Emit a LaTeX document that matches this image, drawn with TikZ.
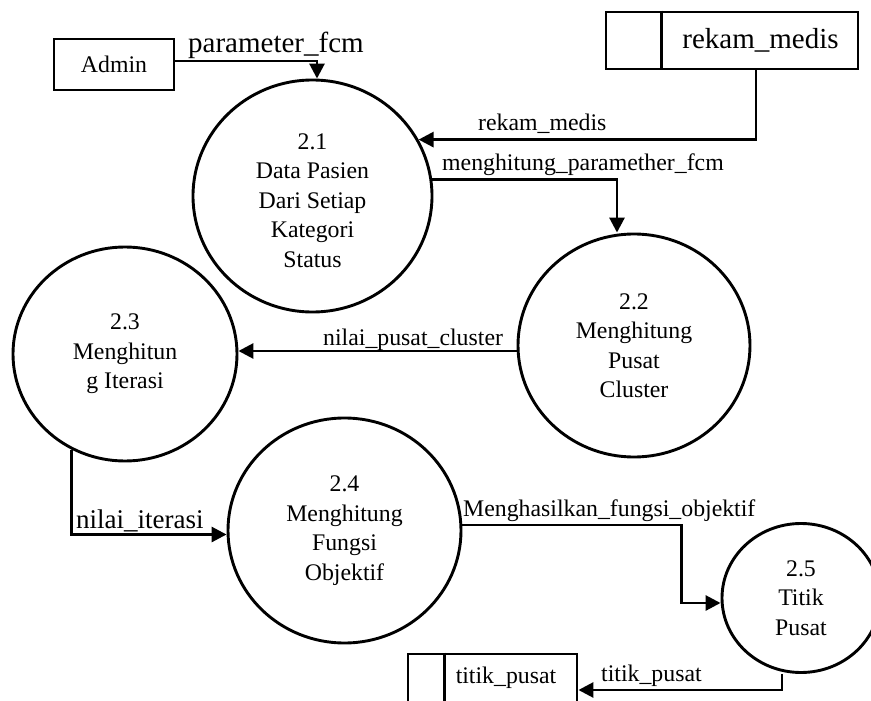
\documentclass[tikz,border=0pt]{standalone}
\usepackage{fontspec}
\setmainfont{Liberation Serif}
\usetikzlibrary{arrows.meta,shapes.geometric}
\begin{document}
\begin{tikzpicture}[x=1pt,y=-1pt,
  every node/.style={font=\fontsize{23.8}{29.5}\selectfont},
  ln/.style={line width=2.9pt},
  flow/.style={line width=2.9pt,-{Triangle[length=15pt,width=15pt]}},
  proc/.style={ellipse,draw,line width=2.9pt,inner sep=0pt,align=center},
  box/.style={rectangle,draw,line width=2.9pt,inner sep=0pt},
  lbl/.style={anchor=base west,inner sep=0pt},
  big/.style={font=\fontsize{29}{34}\selectfont}
]
\useasboundingbox (0,0) rectangle (871,701);
\clip (0,0) rectangle (871,701);

% external entity and data stores
\node[box,minimum width=120pt,minimum height=51pt] (admin) at (114,64.5) {Admin};
\node[box,minimum width=252pt,minimum height=57pt] (rm) at (732,40.5) {};
\draw[ln] ([xshift=57pt]rm.north west) -- ([xshift=57pt]rm.south west);
\node[big,inner sep=0pt] (rmt) at ([xshift=28.5pt]rm.center) {rekam\_medis};
\node[box,minimum width=169pt,minimum height=56pt] (ts) at (492.5,682) {};
\draw[ln] ([xshift=38pt]ts.north west) -- ([xshift=38pt]ts.south west);
\node[anchor=base,inner sep=0pt] (tst) at (506,683) {titik\_pusat};

% processes
\node[proc,minimum width=239pt,minimum height=232pt] (c21) at (312.5,196) {};
\node[align=center,inner sep=0pt] (c21t) at (312.5,200.5) {2.1\\Data Pasien\\Dari Setiap\\Kategori\\Status};
\node[proc,minimum width=232pt,minimum height=223pt] (c22) at (634,345.5) {2.2\\Menghitung\\Pusat\\Cluster};
\node[proc,minimum width=224pt,minimum height=214pt] (c23) at (125,354) {2.3\\Menghitun\\g Iterasi};
\node[proc,minimum width=233pt,minimum height=225pt] (c24) at (344.5,530.5) {2.4\\Menghitung\\Fungsi\\Objektif};
\node[proc,minimum width=158pt,minimum height=149pt] (c25) at (801,598) {2.5\\Titik\\Pusat};

% flows
\draw[flow] ([yshift=3.5pt]admin.east) -| ([xshift=4.5pt]c21.north);
\draw[flow] ([xshift=24pt]rm.south) |- (c21.28);
\draw[flow] (c21.8) -| ([xshift=-17pt]c22.north);
\draw[flow] ([yshift=-5.5pt]c22.west) -- ([yshift=-5.5pt]c22.west -| c23.east);
\draw[flow] (c23.241) |- ([yshift=-4pt]c24.west);
\draw[flow] ([yshift=5.5pt]c24.east) -| ([xshift=-39pt,yshift=-5pt]c25.west) -- ([yshift=-5pt]c25.west);
\draw[flow] ([xshift=-19pt]c25.south) |- ([yshift=-8pt]ts.east);

% flow labels
\node[lbl,big] (l1) at (188,53) {parameter\_fcm};
\node[lbl] (l2) at (478,130) {rekam\_medis};
\node[lbl] (l3) at (442,170) {menghitung\_paramether\_fcm};
\node[lbl] (l4) at (323,345) {nilai\_pusat\_cluster};
\node[lbl,font=\fontsize{27}{32}\selectfont] (l5) at (76,528) {nilai\_iterasi};
\node[lbl] (l6) at (463,516) {Menghasilkan\_fungsi\_objektif};
\node[lbl] (l7) at (601,681) {titik\_pusat};
\end{tikzpicture}
\end{document}
